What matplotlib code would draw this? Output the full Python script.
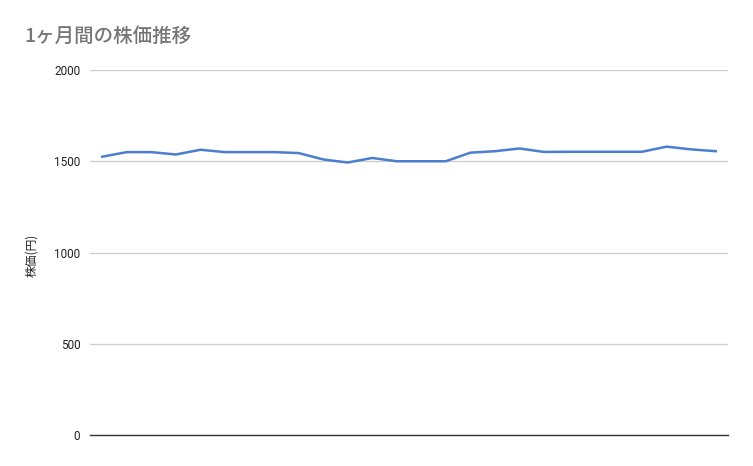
import matplotlib
matplotlib.use("Agg")
import matplotlib.pyplot as plt

plt.rcParams['font.family'] = ['Noto Sans CJK JP', 'DejaVu Sans']

days = list(range(26))
prices = [1525, 1550, 1550, 1537, 1563, 1550, 1550, 1550, 1545, 1510, 1493, 1518,
          1500, 1500, 1500, 1547, 1555, 1570, 1551, 1552, 1552, 1552, 1552, 1580, 1565, 1555]
yticks = [0, 500, 1000, 1500, 2000]
title = "1ヶ月間の株価推移"
ylabel = "株価(円)"

fig = plt.figure(figsize=(7.53, 4.66), dpi=100)
ax = fig.add_axes([90/753, 1-435/466, (728-90)/753, (435-70)/466])

ax.plot(days, prices, color='#4a7fd0', linewidth=1.8, solid_joinstyle='round')
ax.set_xlim(-0.5, 25.5)
ax.set_ylim(0, 2000)
ax.set_yticks(yticks)
ax.set_xticks([])
ax.grid(axis='y', color='#cccccc', linewidth=0.9)
ax.set_axisbelow(True)
for s in ['top', 'right', 'left']:
    ax.spines[s].set_visible(False)
ax.spines['bottom'].set_color('#333333')
ax.spines['bottom'].set_linewidth(1.0)
ax.spines['bottom'].set_zorder(3)
ax.tick_params(axis='y', length=0, pad=7, labelsize=8.5, labelcolor='#222222')
for lbl in ax.get_yticklabels():
    lbl.set_family(['Roboto', 'DejaVu Sans'])

fig.text(32/753, 1-255/466, ylabel, rotation=90, ha='center', va='center',
         fontsize=8.5, color='#222222')
fig.text(24/753, 1-36/466, title, ha='left', va='center', fontsize=14,
         color='#757575', fontweight='medium')

fig.savefig('out.png', dpi=100)
